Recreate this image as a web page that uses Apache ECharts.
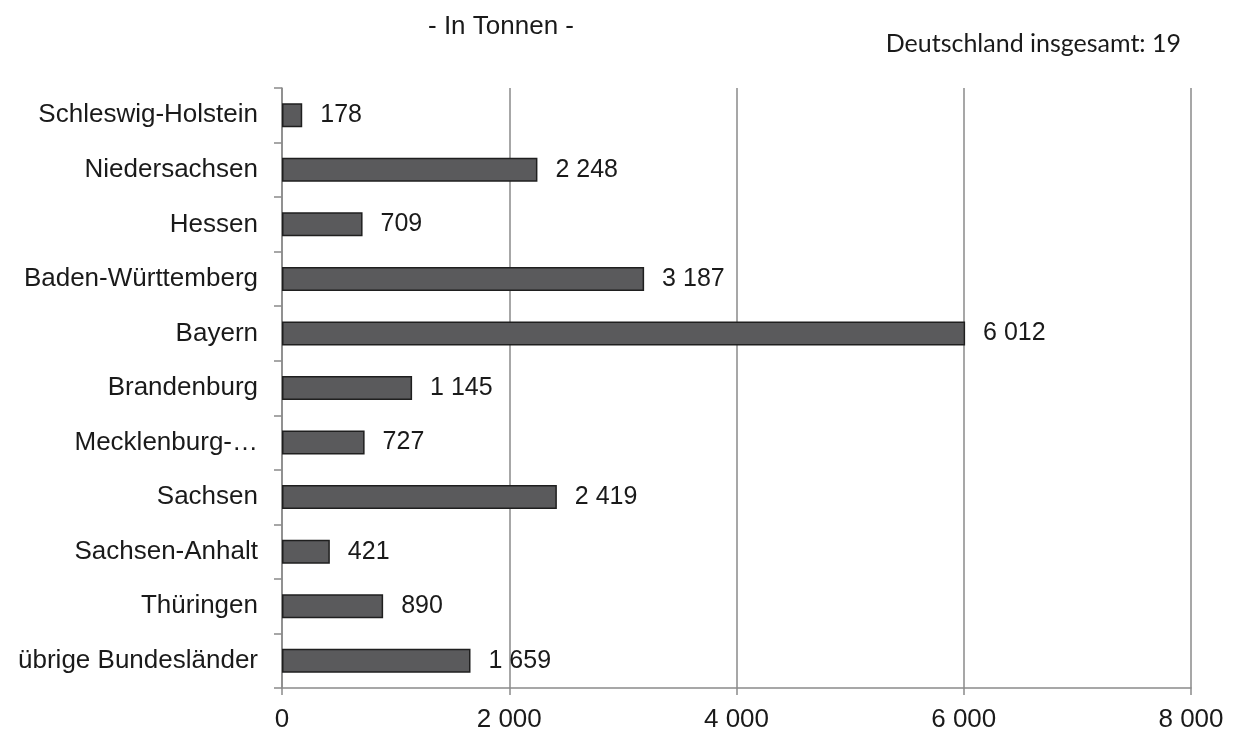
<!DOCTYPE html>
<html>
<head>
<meta charset="utf-8">
<script src="https://cdn.jsdelivr.net/npm/echarts@6/dist/echarts.min.js"></script>
<style>html,body{margin:0;padding:0;background:#fff}#c{width:1233px;height:733px}</style>
</head>
<body>
<div id="c"></div>
<script>
const categories = ["Schleswig-Holstein","Niedersachsen","Hessen","Baden-Württemberg","Bayern","Brandenburg","Mecklenburg-Vorpommern","Sachsen","Sachsen-Anhalt","Thüringen","übrige Bundesländer"];
const values = [178, 2248, 709, 3187, 6012, 1145, 727, 2419, 421, 890, 1659];
const xTicks = [0, 2000, 4000, 6000, 8000];
const subtitle = "- In Tonnen -";
const totalNote = "Deutschland insgesamt: 19";

const fmt = v => String(v).replace(/\B(?=(\d{3})+(?!\d))/g, " ");
const chart = echarts.init(document.getElementById('c'));
chart.setOption({
  backgroundColor: '#fff',
  animation: false,
  title: [
    {text: subtitle, left: 496, top: 9, textAlign: 'center',
     textStyle: {fontFamily: 'Liberation Sans, Arial', fontSize: 26, fontWeight: 'normal', color: '#1a1a1a'}},
    {text: totalNote, right: 47, top: 26,
     textStyle: {fontFamily: 'Lato, sans-serif', fontSize: 25, fontWeight: 'normal', color: '#1a1a1a'}}
  ],
  grid: {left: 282, right: 42, top: 88, bottom: 43, containLabel: false},
  xAxis: {
    type: 'value', min: xTicks[0], max: xTicks[xTicks.length-1], interval: 2000,
    axisLine: {show: true, lineStyle: {color: '#8a8a8a', width: 1.5}},
    axisTick: {show: true, length: 7, lineStyle: {color: '#8a8a8a', width: 1.5}},
    splitLine: {show: true, lineStyle: {color: '#8a8a8a', width: 1.5}},
    axisLabel: {formatter: v => fmt(v), fontFamily: 'Liberation Sans, Arial', fontSize: 26, color: '#1a1a1a', margin: 19}
  },
  yAxis: {
    type: 'category', data: categories, inverse: true,
    axisLine: {show: true, lineStyle: {color: '#8a8a8a', width: 1.5}},
    axisTick: {show: true, length: 8, lineStyle: {color: '#8a8a8a', width: 1.5}},
    axisLabel: {
      formatter: v => v.length > 20 ? v.slice(0, 12) + '…' : v,
      fontFamily: 'Liberation Sans, Arial', fontSize: 26, color: '#1a1a1a', margin: 24
    }
  },
  series: [{
    type: 'bar', data: values, barCategoryGap: '56%',
    itemStyle: {color: '#5a5a5c', borderColor: '#1f1f1f', borderWidth: 1.5},
    label: {show: true, position: 'right', distance: 18, formatter: p => fmt(p.value),
      fontFamily: 'Liberation Sans, Arial', fontSize: 25, color: '#1a1a1a'}
  }]
});
</script>
</body>
</html>
